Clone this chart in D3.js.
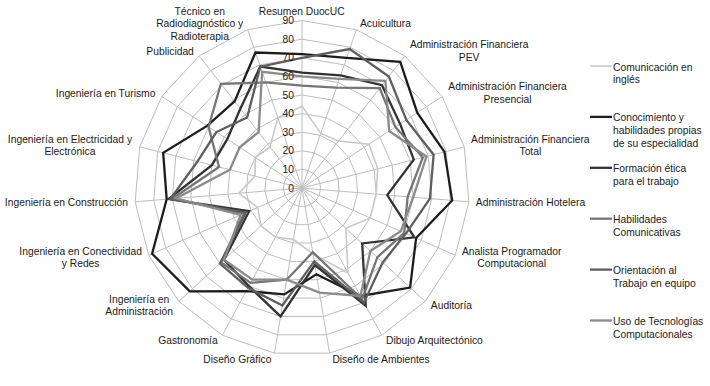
<!DOCTYPE html>
<html>
<head>
<meta charset="utf-8">
<script src="https://cdn.jsdelivr.net/npm/d3@7"></script>
<style>
  body { margin:0; background:#fff; }
  text { font-family: "Liberation Sans", Arial, sans-serif; fill:#1a1a1a; }
</style>
</head>
<body>
<div class="svg-container"></div>
<script>
//categories (line breaks as in the original labels)
const categories = [
  "Resumen DuocUC", "Acuicultura", "Administración Financiera\nPEV",
  "Administración Financiera\nPresencial", "Administración Financiera\nTotal",
  "Administración Hotelera", "Analista Programador\nComputacional", "Auditoría",
  "Dibujo Arquitectónico", "Diseño de Ambientes", "Diseño Gráfico", "Gastronomía",
  "Ingeniería en\nAdministración", "Ingeniería en Conectividad\ny Redes",
  "Ingeniería en Construcción", "Ingeniería en Electricidad y\nElectrónica",
  "Ingeniería en Turismo", "Publicidad", "Técnico en\nRadiodiagnóstico y\nRadioterapia"
];

//series names
const seriesNames = [
  "Comunicación en\ninglés",
  "Conocimiento y\nhabilidades propias\nde su especialidad",
  "Formación ética\npara el trabajo",
  "Habilidades\nComunicativas",
  "Orientación al\nTrabajo en equipo",
  "Uso de Tecnologías\nComputacionales"
];

//values, one per category
const comunicacion = [44, 31, 32, 43, 42, 40, 40, 32, 52, 36, 28, 30, 30, 26, 34, 26, 30, 28, 40];
const conocimiento = [72, 74, 86, 74, 79, 81, 67, 79, 66, 47, 58, 63, 82, 88, 73, 77, 61, 59, 77];
const formacion    = [62, 64, 70, 63, 62, 46, 66, 44, 72, 42, 70, 60, 57, 31, 72, 50, 48, 54, 69];
const habilidades  = [55, 57, 68, 60, 67, 57, 60, 55, 68, 35, 50, 58, 59, 34, 70, 46, 60, 71, 60];
const orientacion  = [70, 79, 76, 67, 73, 69, 61, 59, 70, 40, 64, 61, 60, 33, 71, 58, 55, 48, 69];
const tecnologias  = [60, 62, 73, 56, 69, 60, 58, 50, 66, 57, 50, 56, 57, 36, 68, 40, 40, 38, 66];

//tick values of the radial axis
const ticks = [0, 10, 20, 30, 40, 50, 60, 70, 80, 90];

const allSeries = [comunicacion, conocimiento, formacion, habilidades, orientacion, tecnologias];
const colors = ["#c9c9c9", "#1c1c1c", "#323232", "#757575", "#5e5e5e", "#8a8a8a"];

//dimensions
const width = 710, height = 386;
const cx = 302, cy = 188, R = 167.4;
const fs = 10.3;

const svg = d3.select(".svg-container")
  .append("svg")
  .attr("width", width)
  .attr("height", height);

const rScale = d3.scaleLinear().domain([0, 90]).range([0, R]);
const aScale = d3.scaleLinear().domain([0, categories.length]).range([0, 2 * Math.PI]);

const chart = svg.append("g").attr("transform", `translate(${cx},${cy})`);

//grid rings
const ringLine = d3.lineRadial().curve(d3.curveLinearClosed);
chart.selectAll(".ring")
  .data(ticks.slice(1))
  .join("path")
  .attr("class", "ring")
  .attr("d", t => ringLine(categories.map((c, i) => [aScale(i), rScale(t)])))
  .attr("fill", "none")
  .attr("stroke", "#bdbdbd")
  .attr("stroke-width", 1);

//spokes
chart.selectAll(".spoke")
  .data(categories)
  .join("line")
  .attr("class", "spoke")
  .attr("x1", 0).attr("y1", 0)
  .attr("x2", (d, i) => Math.sin(aScale(i)) * R)
  .attr("y2", (d, i) => -Math.cos(aScale(i)) * R)
  .attr("stroke", "#bdbdbd")
  .attr("stroke-width", 1);

//series lines
const seriesLine = d3.lineRadial()
  .angle((d, i) => aScale(i))
  .radius(d => rScale(d))
  .curve(d3.curveLinearClosed);

chart.selectAll(".series")
  .data(allSeries)
  .join("path")
  .attr("class", "series")
  .attr("d", d => seriesLine(d))
  .attr("fill", "none")
  .attr("stroke", (d, i) => colors[i])
  .attr("stroke-width", (d, i) => i === 0 ? 1.6 : 2.3)
  .attr("stroke-linejoin", "miter");

//tick labels
chart.selectAll(".tick-label")
  .data(ticks)
  .join("text")
  .attr("class", "tick-label")
  .attr("x", -8)
  .attr("y", d => -rScale(d))
  .attr("dy", "0.35em")
  .attr("text-anchor", "end")
  .attr("font-size", fs)
  .text(d => d);

//category labels, placed next to the end of each spoke
categories.forEach((c, i) => {
  const a = aScale(i);
  const s = Math.sin(a), co = Math.cos(a);
  const px = s * R, py = -co * R;
  const g = chart.append("g");
  const t = g.append("text").attr("text-anchor", "middle").attr("font-size", fs);
  c.split("\n").forEach((l, k) => t.append("tspan").attr("x", 0).attr("dy", k ? 12.4 : 0).text(l));
  const bb = t.node().getBBox();
  const gap = 2 + 5 * Math.abs(s);
  let bx, by;
  if (Math.abs(s) < 0.01) { bx = px; by = py - co * (bb.height / 2 + 4); }
  else {
    bx = s > 0 ? px + gap + bb.width / 2 : px - gap - bb.width / 2;
    by = py - 6 * co;
  }
  g.attr("transform", `translate(${bx - (bb.x + bb.width / 2)},${by - (bb.y + bb.height / 2)})`);
});

//legend
const legend = svg.append("g").attr("class", "legend");
seriesNames.forEach((n, i) => {
  const y = 66 + i * 50.9;
  legend.append("line")
    .attr("x1", 590).attr("x2", 612)
    .attr("y1", y).attr("y2", y)
    .attr("stroke", colors[i])
    .attr("stroke-width", i === 0 ? 1.6 : 2.3);
  const t = legend.append("text").attr("font-size", fs).attr("x", 613).attr("y", y + 4.5);
  n.split("\n").forEach((l, k) => t.append("tspan").attr("x", 613).attr("dy", k ? 12.8 : 0).text(l));
});
</script>
</body>
</html>
